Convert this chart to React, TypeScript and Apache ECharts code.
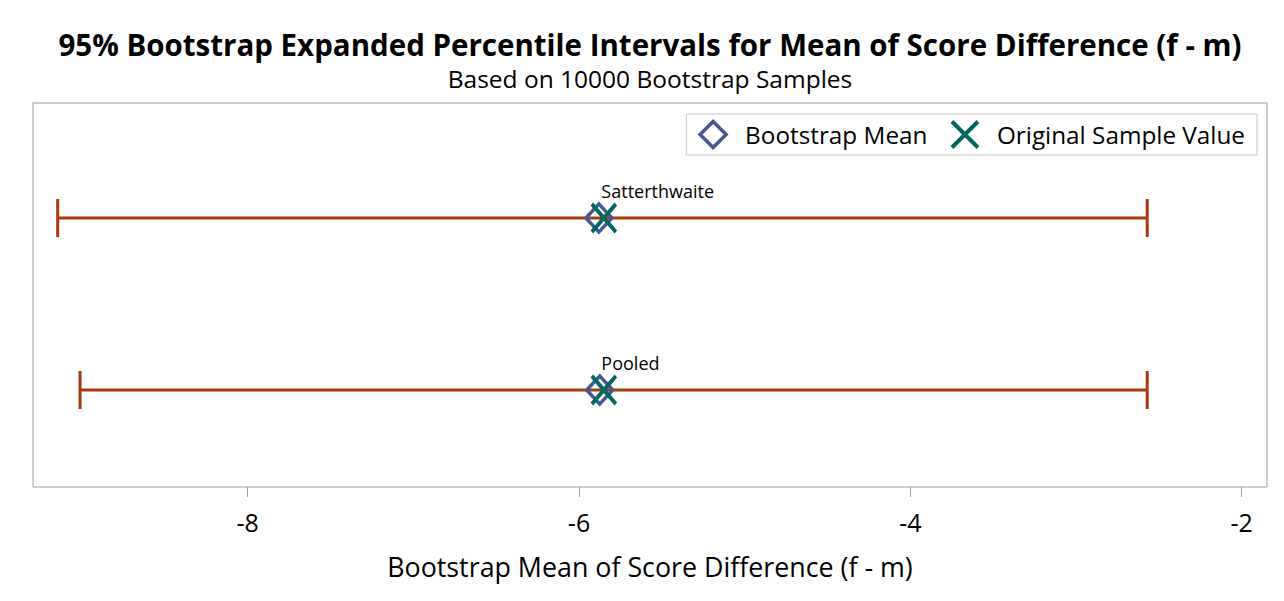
import React, { useEffect, useRef } from "react";
import * as echarts from "echarts";

const methods = ["Satterthwaite", "Pooled"];
const methodPos = [2, 1];
const lowerCL = [-9.147, -9.012];
const upperCL = [-2.57, -2.57];
const bootMean = [-5.88, -5.875];
const origValue = [-5.85, -5.85];
const xTicks = [-8, -6, -4, -2];

const FONT = "'Open Sans', 'Noto Sans', sans-serif";
const BAR = "#A43C0F";
const BLUE = "#445694";
const TEAL = "#01665E";
const XPATH = "path://M0,0L10,10M10,0L0,10";
const DPATH = "path://M5,0L10,5L5,10L0,5Z";

export default function App() {
  const ref = useRef<HTMLDivElement>(null);
  useEffect(() => {
    if (!ref.current) return;
    const chart = echarts.init(ref.current, null, { renderer: "svg" });
    const barData = methods.map((m, i) => [lowerCL[i], upperCL[i], methodPos[i]]);
    chart.setOption({
      animation: false,
      textStyle: { fontFamily: FONT },
      graphic: [
        {
          type: "text",
          x: 650,
          y: 44,
          style: {
            text: "95% Bootstrap Expanded Percentile Intervals for Mean of Score Difference (f - m)",
            font: `bold 29.5px ${FONT}`,
            fill: "#000",
            align: "center",
            verticalAlign: "middle",
          },
        },
        {
          type: "text",
          x: 650,
          y: 78,
          style: {
            text: "Based on 10000 Bootstrap Samples",
            font: `24.5px ${FONT}`,
            fill: "#000",
            align: "center",
            verticalAlign: "middle",
          },
        },
      ],
      legend: {
        right: 27,
        top: 114,
        orient: "horizontal",
        borderColor: "#C8C8C8",
        borderWidth: 1,
        padding: [5, 12, 5, 12],
        itemWidth: 54,
        itemHeight: 26,
        itemGap: 22,
        symbolKeepAspect: true,
        textStyle: { fontSize: 24.3, color: "#000", fontFamily: FONT, lineHeight: 26 },
        data: [
          {
            name: "Bootstrap Mean",
            icon: DPATH,
            itemStyle: { color: "rgba(255,255,255,0)", borderColor: BLUE, borderWidth: 3.5, opacity: 1 },
          },
          {
            name: "Original Sample Value",
            icon: XPATH,
            itemStyle: { color: "none", borderColor: TEAL, borderWidth: 4, opacity: 1 },
          },
        ],
      },
      grid: {
        left: 33,
        right: 17,
        top: 103,
        height: 384,
        show: true,
        borderColor: "#A0A0A0",
        borderWidth: 1,
      },
      xAxis: {
        type: "value",
        min: -9.296,
        max: -1.847,
        name: "Bootstrap Mean of Score Difference (f - m)",
        nameLocation: "middle",
        nameGap: 66,
        nameTextStyle: { fontSize: 26.8, color: "#000", fontFamily: FONT },
        axisLine: { show: false },
        splitLine: { show: false },
        axisTick: {
          show: true,
          length: 10,
          lineStyle: { color: "#A0A0A0" },
          customValues: xTicks,
        },
        axisLabel: {
          fontSize: 25,
          color: "#000",
          margin: 22,
          customValues: xTicks,
          fontFamily: FONT,
        },
      },
      yAxis: {
        type: "value",
        min: 0.436,
        max: 2.669,
        show: false,
      },
      series: [
        {
          type: "custom",
          name: "CL",
          data: barData,
          encode: { x: [0, 1], y: 2 },
          z: 1,
          renderItem: (params: any, api: any) => {
            const a = api.coord([api.value(0), api.value(2)]);
            const b = api.coord([api.value(1), api.value(2)]);
            const h = 19;
            const st = { stroke: BAR, lineWidth: 3 };
            return {
              type: "group",
              children: [
                { type: "line", shape: { x1: a[0], y1: a[1], x2: b[0], y2: b[1] }, style: st },
                { type: "line", shape: { x1: a[0], y1: a[1] - h, x2: a[0], y2: a[1] + h }, style: st },
                { type: "line", shape: { x1: b[0], y1: b[1] - h, x2: b[0], y2: b[1] + h }, style: st },
              ],
            };
          },
        },
        {
          type: "scatter",
          name: "Bootstrap Mean",
          symbol: DPATH,
          symbolSize: [26, 28],
          z: 3,
          itemStyle: { color: "rgba(255,255,255,0)", borderColor: BLUE, borderWidth: 3.5, opacity: 1 },
          data: methods.map((m, i) => [bootMean[i], methodPos[i]]),
        },
        {
          type: "scatter",
          name: "Original Sample Value",
          symbol: XPATH,
          symbolSize: [24, 28],
          z: 4,
          itemStyle: { color: "none", borderColor: TEAL, borderWidth: 4, opacity: 1 },
          data: methods.map((m, i) => [origValue[i], methodPos[i]]),
        },
        {
          type: "scatter",
          name: "labels",
          symbolSize: 1,
          silent: true,
          itemStyle: { color: "rgba(0,0,0,0)", opacity: 1 },
          z: 5,
          label: {
            show: true,
            position: [-2, -27],
            align: "left",
            verticalAlign: "middle",
            fontSize: 18,
            color: "#000",
            opacity: 1,
            fontFamily: FONT,
            formatter: (p: any) => methods[p.dataIndex],
          },
          data: methods.map((m, i) => [origValue[i], methodPos[i]]),
        },
      ],
    });
    return () => chart.dispose();
  }, []);
  return (
    <div
      ref={ref}
      style={{ position: "fixed", left: 0, top: 0, width: 1284, height: 601, background: "#fff" }}
    />
  );
}
